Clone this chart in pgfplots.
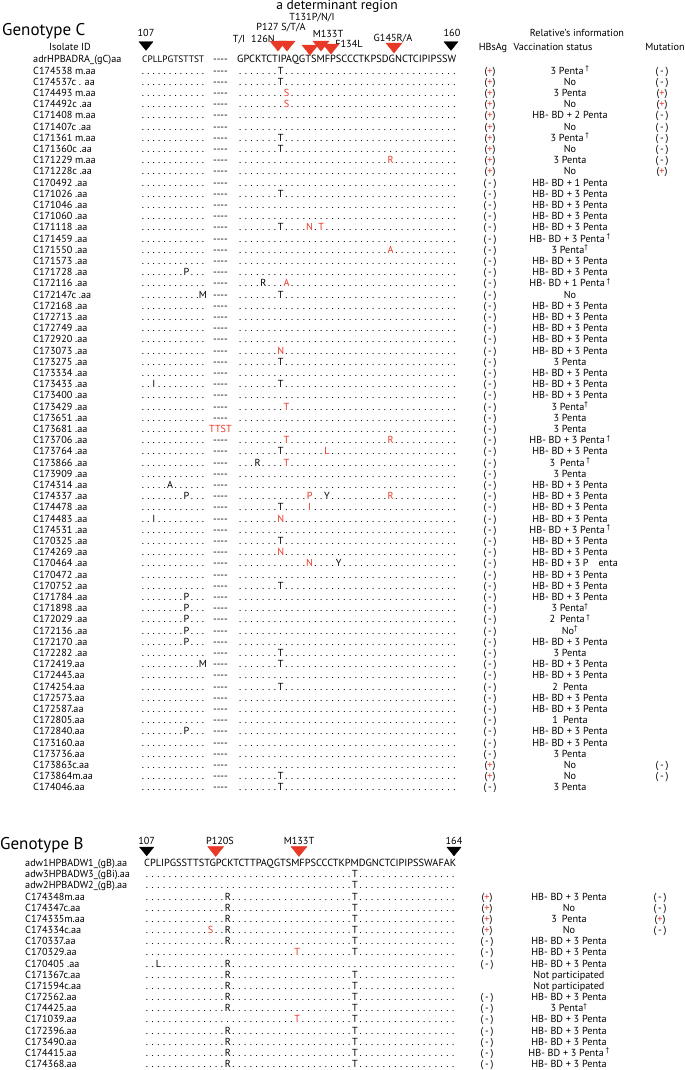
\documentclass[border=0pt]{standalone}
\usepackage{pgfplots}
\pgfplotsset{compat=1.18}
\usepackage{fontspec}
\usepackage{graphicx}
\setmainfont{PT Sans}
\definecolor{mred}{RGB}{232,56,40}

\ExplSyntaxOn
\cs_new:Npn \dts #1 { \prg_replicate:nn {#1} {.} }
\tl_new:N \l_seq_tl
\cs_new_protected:Npn \seqgrid #1 #2
  {
    \tl_set:Nx \l_seq_tl {#2}
    \tl_map_inline:Nn \l_seq_tl
      {
        \int_compare:nNnTF { `##1 } > { 96 }
          { \makebox[#1][c]{\textcolor{mred}{\text_uppercase:n {##1}}} }
          { \makebox[#1][c]{##1} }
      }
  }
\ExplSyntaxOff

\pgfdeclareplotmark{dtri}{%
  \pgfpathmoveto{\pgfqpoint{-\pgfplotmarksize}{0.62\pgfplotmarksize}}%
  \pgfpathlineto{\pgfqpoint{\pgfplotmarksize}{0.62\pgfplotmarksize}}%
  \pgfpathlineto{\pgfqpoint{0pt}{-0.62\pgfplotmarksize}}%
  \pgfpathclose\pgfusepathqfillstroke}

\newcommand\Pp{(\textcolor{mred}{+})}
\newcommand\Mm{(\,-\,)}
\newcommand\dg{\textsuperscript{\textdagger}}
\newcommand\HB{HB- BD + 3 Penta}
\newcommand\gap{-{}-{}-{}-}

% genotype C row: n, id, left, gap, right, HBsAg, vaccination, mutation
\newcommand\crow[8]{%
  \node[txt,anchor=mid west] at (axis cs:33,{60.3+11.2*#1}) {#2};
  \node[txt,anchor=mid west] at (axis cs:140,{60.3+11.2*#1}) {\seqgrid{5.45pt}{#3}};
  \node[txt,anchor=mid] at (axis cs:220.5,{60.3+11.2*#1}) {#4};
  \node[txt,anchor=mid west] at (axis cs:237.1,{60.3+11.2*#1}) {\seqgrid{5.79pt}{#5}};
  \node[txt,anchor=mid] at (axis cs:490,{60.3+11.2*#1}) {#6};
  \node[txt,anchor=mid] at (axis cs:570,{60.3+11.2*#1}) {#7};
  \node[txt,anchor=mid] at (axis cs:662,{60.3+11.2*#1}) {#8};
}
% genotype B row: n, id, seq, HBsAg, vaccination, mutation
\newcommand\brow[6]{%
  \node[txt,anchor=mid west] at (axis cs:25,{864+11.17*#1}) {#2};
  \node[txt,anchor=mid west] at (axis cs:143.8,{864+11.17*#1}) {\seqgrid{5.78pt}{#3}};
  \node[txt,anchor=mid] at (axis cs:487,{864+11.17*#1}) {#4};
  \node[txt,anchor=mid] at (axis cs:569,{864+11.17*#1}) {#5};
  \node[txt,anchor=mid] at (axis cs:660,{864+11.17*#1}) {#6};
}

\begin{document}
\begin{tikzpicture}[txt/.style={font=\fontsize{10.2}{12}\selectfont, inner sep=0pt}]
\begin{axis}[width=685pt, height=1070pt, scale only axis,
  xmin=0, xmax=685, ymin=0, ymax=1070, y dir=reverse,
  axis lines=none, ticks=none, clip=false]
\path (axis cs:0,0) rectangle (axis cs:685,1070);

% position markers
\addplot[only marks, mark=dtri, mark size=7pt, mark options={fill=black, draw=black}]
  coordinates {(146,46) (451,46) (146.7,851.5) (454,851.5)};
\addplot[only marks, mark=dtri, mark size=8pt, mark options={fill=mred, draw=mred}]
  coordinates {(278,46) (287,46) (310,50) (321,46) (331,49) (394,48) (215.7,851.5) (299,851.5)};

% ---------- header genotype C ----------
\node[inner sep=0pt, anchor=mid west, font=\fontsize{17}{20}\selectfont] at (axis cs:2,33) {Genotype C};
\node[inner sep=0pt, anchor=mid, font=\fontsize{13.5}{16}\selectfont] at (axis cs:337,7) {a determinant region};
\node[txt,anchor=mid] at (axis cs:312,18) {T131P/N/I};
\node[txt,anchor=mid] at (axis cs:281,28) {P127 S/T/A};
\node[txt,anchor=mid] at (axis cs:239,40) {T/I};
\node[txt,anchor=mid] at (axis cs:263,40) {126N};
\node[txt,anchor=mid] at (axis cs:328,35) {M133T};
\node[txt,anchor=mid] at (axis cs:349,45) {F134L};
\node[txt,anchor=mid] at (axis cs:393,39) {G145R/A};
\node[txt,anchor=mid] at (axis cs:146,34) {107};
\node[txt,anchor=mid] at (axis cs:452,34) {160};
\node[txt,anchor=mid] at (axis cs:577,34) {Relative’s information};
\node[txt,anchor=mid] at (axis cs:70,48) {Isolate ID};
\node[txt,anchor=mid] at (axis cs:493,48) {HBsAg};
\node[txt,anchor=mid] at (axis cs:553,48) {Vaccination status};
\node[txt,anchor=mid] at (axis cs:665,48) {Mutation};

% ---------- genotype C reference row ----------
\node[txt,anchor=mid west] at (axis cs:33,60.3) {adrHPBADRA\_(gC)aa};
\node[txt,anchor=mid west] at (axis cs:142,60.3) {\resizebox{62pt}{!}{CPLLPGTSTTST}};
\node[txt,anchor=mid] at (axis cs:220.5,60.3) {\gap};
\node[txt,anchor=mid west] at (axis cs:237,60.3) {\resizebox{219pt}{!}{GPCKTCTIPAQGTSMFPSCCCTKPSDGNCTCIPIPSSW}};

% ---------- genotype C rows ----------
\crow{1}{C174538 m.aa}{\dts{12}}{\gap}{\dts{7}T\dts{30}}{\Pp}{3 Penta\,\dg}{\Mm}
\crow{2}{C174537c . aa}{\dts{12}}{\gap}{\dts{7}T\dts{30}}{\Pp}{No}{\Mm}
\crow{3}{C174493 m.aa}{\dts{12}}{\gap}{\dts{8}s\dts{29}}{\Pp}{3 Penta}{\Pp}
\crow{4}{C174492c .aa}{\dts{12}}{\gap}{\dts{8}s\dts{29}}{\Pp}{No}{\Pp}
\crow{5}{C171408 m.aa}{\dts{12}}{\gap}{\dts{38}}{\Pp}{HB- BD + 2 Penta}{\Mm}
\crow{6}{C171407c .aa}{\dts{12}}{\gap}{\dts{38}}{\Pp}{No}{\Mm}
\crow{7}{C171361 m.aa}{\dts{12}}{\gap}{\dts{7}T\dts{30}}{\Pp}{3 Penta\,\dg}{\Mm}
\crow{8}{C171360c .aa}{\dts{12}}{\gap}{\dts{7}T\dts{30}}{\Pp}{No}{\Mm}
\crow{9}{C171229 m.aa}{\dts{12}}{\gap}{\dts{26}r\dts{11}}{\Pp}{3 Penta}{\Mm}
\crow{10}{C171228c .aa}{\dts{12}}{\gap}{\dts{38}}{\Pp}{No}{\Pp}
\crow{11}{C170492 .aa}{\dts{12}}{\gap}{\dts{38}}{\Mm}{HB- BD + 1 Penta}{}
\crow{12}{C171026 .aa}{\dts{12}}{\gap}{\dts{7}T\dts{30}}{\Mm}{\HB}{}
\crow{13}{C171046 .aa}{\dts{12}}{\gap}{\dts{38}}{\Mm}{\HB}{}
\crow{14}{C171060 .aa}{\dts{12}}{\gap}{\dts{38}}{\Mm}{\HB}{}
\crow{15}{C171118 .aa}{\dts{12}}{\gap}{\dts{7}T\dts{4}n.t\dts{23}}{\Mm}{\HB}{}
\crow{16}{C171459 .aa}{\dts{12}}{\gap}{\dts{38}}{\Mm}{\HB\,\dg}{}
\crow{17}{C171550 .aa}{\dts{12}}{\gap}{\dts{26}a\dts{11}}{\Mm}{3 Penta\dg}{}
\crow{18}{C171573 .aa}{\dts{12}}{\gap}{\dts{38}}{\Mm}{\HB}{}
\crow{19}{C171728 .aa}{\dts{8}P\dts{3}}{\gap}{\dts{38}}{\Mm}{\HB}{}
\crow{20}{C172116 .aa}{\dts{12}}{\gap}{\dts{4}R\dts{3}a\dts{29}}{\Mm}{HB- BD + 1 Penta\,\dg}{}
\crow{21}{C172147c .aa}{\dts{11}M}{\gap}{\dts{7}T\dts{30}}{\Mm}{No}{}
\crow{22}{C172168 .aa}{\dts{12}}{\gap}{\dts{38}}{\Mm}{\HB}{}
\crow{23}{C172713 .aa}{\dts{12}}{\gap}{\dts{38}}{\Mm}{\HB}{}
\crow{24}{C172749 .aa}{\dts{12}}{\gap}{\dts{38}}{\Mm}{\HB}{}
\crow{25}{C172920 .aa}{\dts{12}}{\gap}{\dts{38}}{\Mm}{\HB}{}
\crow{26}{C173073 .aa}{\dts{12}}{\gap}{\dts{7}n\dts{30}}{\Mm}{\HB}{}
\crow{27}{C173275 .aa}{\dts{12}}{\gap}{\dts{7}T\dts{30}}{\Mm}{3 Penta}{}
\crow{28}{C173334 .aa}{\dts{12}}{\gap}{\dts{38}}{\Mm}{\HB}{}
\crow{29}{C173433 .aa}{\dts{2}I\dts{9}}{\gap}{\dts{7}T\dts{30}}{\Mm}{\HB}{}
\crow{30}{C173400 .aa}{\dts{12}}{\gap}{\dts{38}}{\Mm}{\HB}{}
\crow{31}{C173429 .aa}{\dts{12}}{\gap}{\dts{8}t\dts{29}}{\Mm}{3 Penta\dg}{}
\crow{32}{C173651 .aa}{\dts{12}}{\gap}{\dts{38}}{\Mm}{3 Penta}{}
\crow{33}{C173681 .aa}{\dts{12}}{\textcolor{mred}{TTST}}{\dts{38}}{\Mm}{3 Penta}{}
\crow{34}{C173706 .aa}{\dts{12}}{\gap}{\dts{8}t\dts{17}r\dts{11}}{\Mm}{\HB\,\dg}{}
\crow{35}{C173764 .aa}{\dts{12}}{\gap}{\dts{7}T\dts{7}l\dts{22}}{\Mm}{\HB}{}
\crow{36}{C173866 .aa}{\dts{12}}{\gap}{\dts{3}R\dts{4}t\dts{29}}{\Mm}{3\enspace Penta\,\dg}{}
\crow{37}{C173909 .aa}{\dts{12}}{\gap}{\dts{38}}{\Mm}{3 Penta}{}
\crow{38}{C174314 .aa}{\dts{5}A\dts{6}}{\gap}{\dts{38}}{\Mm}{\HB}{}
\crow{39}{C174337 .aa}{\dts{8}P\dts{3}}{\gap}{\dts{12}p\dts{2}Y\dts{10}r\dts{11}}{\Mm}{\HB}{}
\crow{40}{C174478 .aa}{\dts{12}}{\gap}{\dts{7}T\dts{4}i\dts{25}}{\Mm}{\HB}{}
\crow{41}{C174483 .aa}{\dts{2}I\dts{9}}{\gap}{\dts{7}n\dts{30}}{\Mm}{\HB}{}
\crow{42}{C174531 .aa}{\dts{12}}{\gap}{\dts{38}}{\Mm}{\HB\,\dg}{}
\crow{43}{C170325 .aa}{\dts{12}}{\gap}{\dts{7}T\dts{30}}{\Mm}{\HB}{}
\crow{44}{C174269 .aa}{\dts{12}}{\gap}{\dts{7}n\dts{30}}{\Mm}{\HB}{}
\crow{45}{C170464 .aa}{\dts{12}}{\gap}{\dts{12}n\dts{4}Y\dts{20}}{\Mm}{\hspace{10pt}HB- BD + 3 P\hspace{10pt}enta}{}
\crow{46}{C170472 .aa}{\dts{12}}{\gap}{\dts{38}}{\Mm}{\HB}{}
\crow{47}{C170752 .aa}{\dts{12}}{\gap}{\dts{7}T\dts{30}}{\Mm}{\HB}{}
\crow{48}{C171784 .aa}{\dts{8}P\dts{3}}{\gap}{\dts{38}}{\Mm}{\HB}{}
\crow{49}{C171898 .aa}{\dts{8}P\dts{3}}{\gap}{\dts{38}}{\Mm}{3 Penta\dg}{}
\crow{50}{C172029 .aa}{\dts{8}P\dts{3}}{\gap}{\dts{38}}{\Mm}{2\enspace Penta\,\dg}{}
\crow{51}{C172136 .aa}{\dts{8}P\dts{3}}{\gap}{\dts{38}}{\Mm}{No\dg}{}
\crow{52}{C172170 .aa}{\dts{8}P\dts{3}}{\gap}{\dts{38}}{\Mm}{\HB}{}
\crow{53}{C172282 .aa}{\dts{12}}{\gap}{\dts{7}T\dts{30}}{\Mm}{3 Penta}{}
\crow{54}{C172419.aa}{\dts{11}M}{\gap}{\dts{7}T\dts{30}}{\Mm}{\HB}{}
\crow{55}{C172443.aa}{\dts{12}}{\gap}{\dts{38}}{\Mm}{\HB}{}
\crow{56}{C174254.aa}{\dts{12}}{\gap}{\dts{7}T\dts{30}}{\Mm}{2\enspace Penta}{}
\crow{57}{C172573.aa}{\dts{12}}{\gap}{\dts{38}}{\Mm}{\HB}{}
\crow{58}{C172587.aa}{\dts{12}}{\gap}{\dts{38}}{\Mm}{\HB}{}
\crow{59}{C172805.aa}{\dts{12}}{\gap}{\dts{38}}{\Mm}{1\enspace Penta}{}
\crow{60}{C172840.aa}{\dts{8}P\dts{3}}{\gap}{\dts{38}}{\Mm}{\HB}{}
\crow{61}{C173160.aa}{\dts{12}}{\gap}{\dts{38}}{\Mm}{\HB}{}
\crow{62}{C173736.aa}{\dts{12}}{\gap}{\dts{38}}{\Mm}{3 Penta}{}
\crow{63}{C173863c.aa}{\dts{12}}{\gap}{\dts{38}}{\Pp}{No}{\Mm}
\crow{64}{C173864m.aa}{\dts{12}}{\gap}{\dts{7}T\dts{30}}{\Pp}{No}{\Mm}
\crow{65}{C174046.aa}{\dts{12}}{\gap}{\dts{7}T\dts{30}}{\Mm}{3 Penta}{}

% ---------- header genotype B ----------
\node[inner sep=0pt, anchor=mid west, font=\fontsize{17}{20}\selectfont] at (axis cs:0,847) {Genotype B};
\node[txt,anchor=mid] at (axis cs:146.7,842) {107};
\node[txt,anchor=mid] at (axis cs:220,842) {P120S};
\node[txt,anchor=mid] at (axis cs:299,842) {M133T};
\node[txt,anchor=mid] at (axis cs:454,842) {164};

% ---------- genotype B rows ----------
\node[txt,anchor=mid west] at (axis cs:25,864) {adw1HPBADW1\_(gB).aa};
\node[txt,anchor=mid west] at (axis cs:144,864) {\resizebox{312pt}{!}{CPLIPGSSTTSTGPCKTCTTPAQGTSMFPSCCCTKPMDGNCTCIPIPSSWAFAK}};
\brow{1}{adw3HPBADW3\_(gBi).aa}{\dts{36}T\dts{17}}{}{}{}
\brow{2}{adw2HPBADW2\_(gB).aa}{\dts{36}T\dts{17}}{}{}{}
\brow{3}{C174348m.aa}{\dts{14}R\dts{21}T\dts{17}}{\Pp}{\HB}{\Mm}
\brow{4}{C174347c.aa}{\dts{14}R\dts{21}T\dts{17}}{\Pp}{No}{\Mm}
\brow{5}{C174335m.aa}{\dts{14}R\dts{21}T\dts{17}}{\Pp}{3\enspace Penta}{\Pp}
\brow{6}{C174334c.aa}{\dts{11}s\dts{2}R\dts{21}T\dts{17}}{\Pp}{No}{\Mm}
\brow{7}{C170337.aa}{\dts{14}R\dts{21}T\dts{17}}{\Mm}{\HB}{}
\brow{8}{C170329.aa}{\dts{26}t\dts{9}T\dts{17}}{\Mm}{\HB}{}
\brow{9}{C170405 .aa}{\dts{2}L\dts{11}R\dts{39}}{\Mm}{\HB}{}
\brow{10}{C171367c.aa}{\dts{14}R\dts{21}T\dts{17}}{}{Not participated}{}
\brow{11}{C171594c.aa}{\dts{14}R\dts{21}T\dts{17}}{}{Not participated}{}
\brow{12}{C172562.aa}{\dts{14}R\dts{21}T\dts{17}}{\Mm}{\HB}{}
\brow{13}{C174425.aa}{\dts{14}R\dts{21}T\dts{17}}{\Mm}{3 Penta\dg}{}
\brow{14}{C171039.aa}{\dts{26}t\dts{9}T\dts{17}}{\Mm}{\HB}{}
\brow{15}{C172396.aa}{\dts{14}R\dts{21}T\dts{17}}{\Mm}{\HB}{}
\brow{16}{C173490.aa}{\dts{14}R\dts{21}T\dts{17}}{\Mm}{\HB}{}
\brow{17}{C174415.aa}{\dts{14}R\dts{21}T\dts{17}}{\Mm}{\HB\,\dg}{}
\brow{18}{C174368.aa}{\dts{14}R\dts{21}T\dts{17}}{\Mm}{\HB}{}
\end{axis}
\end{tikzpicture}
\end{document}
